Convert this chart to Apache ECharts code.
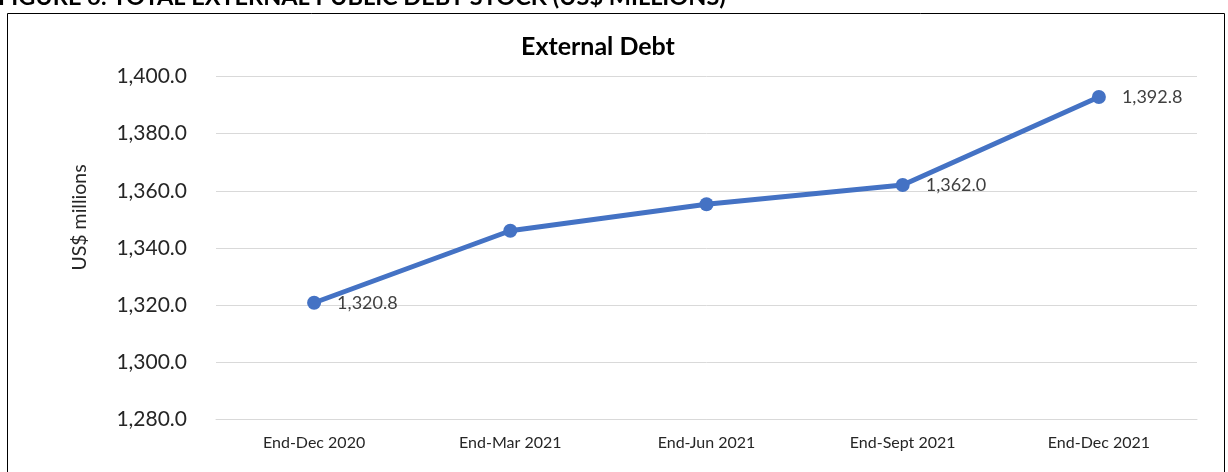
<!DOCTYPE html>
<html>
<head>
<meta charset="utf-8">
<script src="https://cdn.jsdelivr.net/npm/echarts@6/dist/echarts.min.js"></script>
<style>html,body{margin:0;padding:0;background:#fff;}#c{width:1228px;height:472px;}</style>
</head>
<body>
<div id="c"></div>
<script>
const categories = ['End-Dec 2020', 'End-Mar 2021', 'End-Jun 2021', 'End-Sept 2021', 'End-Dec 2021'];
const debtValues = [1320.8, 1346.0, 1355.3, 1362.0, 1392.8];
const labelledPoints = [true, false, false, true, true];
const yMin = 1280, yMax = 1400, yStep = 20;
const chartTitle = 'External Debt';
const figureTitle = 'FIGURE 6: TOTAL EXTERNAL PUBLIC DEBT STOCK (US$ MILLIONS)';
const yAxisName = 'US$ millions';

const FONT = 'Lato, "Noto Sans", sans-serif';
const fmt = v => Number(v).toLocaleString('en-US', {minimumFractionDigits: 1, maximumFractionDigits: 1});

const chart = echarts.init(document.getElementById('c'));
chart.setOption({
  backgroundColor: '#fff',
  animation: false,
  title: {
    text: chartTitle,
    left: 521,
    top: 34,
    padding: 0,
    textStyle: {fontFamily: FONT, fontSize: 25, fontWeight: 'bold', color: '#000'}
  },
  graphic: [
    {type: 'rect', shape: {x: 7.5, y: 13.5, width: 1217, height: 470},
     style: {fill: 'none', stroke: '#000', lineWidth: 1}, silent: true, z: 100},
    {type: 'text', left: -2, top: -15,
     style: {text: figureTitle, fontFamily: FONT, fontSize: 23.5, fontWeight: 'bold', fill: '#000'}},
    {type: 'text', x: 80, y: 217.5, rotation: Math.PI / 2,
     style: {text: yAxisName, fontFamily: FONT, fontSize: 19.5, fill: '#262626',
             align: 'center', verticalAlign: 'middle'}}
  ],
  grid: {left: 216, right: 31, top: 76.5, bottom: 52.7},
  xAxis: {
    type: 'category',
    data: categories,
    boundaryGap: true,
    axisLine: {show: true, lineStyle: {color: '#d9d9d9', width: 1}},
    axisTick: {show: false},
    axisLabel: {fontFamily: FONT, fontSize: 16, color: '#262626', margin: 16}
  },
  yAxis: {
    type: 'value',
    min: yMin, max: yMax, interval: yStep,
    axisLine: {show: false},
    axisTick: {show: false},
    splitLine: {lineStyle: {color: '#d9d9d9', width: 1}},
    axisLabel: {fontFamily: FONT, fontSize: 21, color: '#262626', margin: 29, formatter: fmt}
  },
  series: [{
    type: 'line',
    data: debtValues.map((v, i) => ({
      value: v,
      label: {show: labelledPoints[i]}
    })),
    symbol: 'circle',
    symbolSize: 14,
    lineStyle: {color: '#4472C4', width: 5},
    itemStyle: {color: '#4472C4'},
    label: {
      position: 'right',
      distance: 16,
      fontFamily: FONT,
      fontSize: 18,
      color: '#404040',
      formatter: p => fmt(p.value)
    }
  }]
});
</script>
</body>
</html>
